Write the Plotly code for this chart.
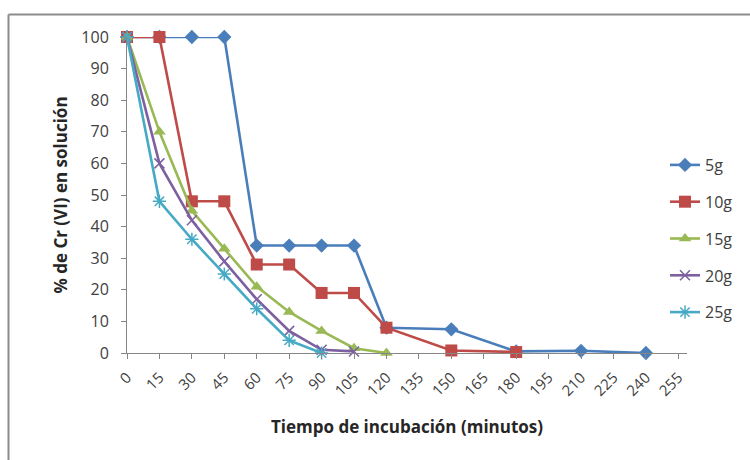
import plotly.graph_objects as go

series_names = ["5g", "10g", "15g", "20g", "25g"]

x_5g = [0, 15, 30, 45, 60, 75, 90, 105, 120, 150, 180, 210, 240]
y_5g = [100, 100, 100, 100, 34, 34, 34, 34, 8, 7.5, 0.5, 0.7, 0]

x_10g = [0, 15, 30, 45, 60, 75, 90, 105, 120, 150, 180]
y_10g = [100, 100, 48, 48, 28, 28, 19, 19, 8, 0.8, 0.3]

x_15g = [0, 15, 30, 45, 60, 75, 90, 105, 120]
y_15g = [100, 70, 45, 33, 21, 13, 7, 1.5, 0]

x_20g = [0, 15, 30, 45, 60, 75, 90, 105]
y_20g = [100, 60, 42, 29, 17, 7, 1, 0.5]

x_25g = [0, 15, 30, 45, 60, 75, 90]
y_25g = [100, 48, 36, 25, 14, 4, 0]

x_ticks = list(range(0, 256, 15))
y_ticks = list(range(0, 101, 10))

colors = ["#4A7EBB", "#BE4B48", "#98B954", "#7D60A0", "#46AAC5"]
symbols = ["diamond", "square", "triangle-up", "x-thin-open", "asterisk-open"]
sizes = [11, 12, 11, 10, 11]

xs = [x_5g, x_10g, x_15g, x_20g, x_25g]
ys = [y_5g, y_10g, y_15g, y_20g, y_25g]

fig = go.Figure()
for name, x, y, c, s, sz in zip(series_names, xs, ys, colors, symbols, sizes):
    marker = dict(symbol=s, size=sz, color=c)
    if s.endswith("open"):
        marker["line"] = dict(color=c, width=1.5)
    fig.add_trace(go.Scatter(
        x=x, y=y, name=name, mode="lines+markers", legendgroup=name,
        line=dict(color=c, width=2.6),
        marker=marker, cliponaxis=False,
    ))

font_family = "'Open Sans', sans-serif"

L, T, W, H = 127, 37, 560, 316  # plot area in pixels

fig.update_layout(
    width=750, height=460,
    margin=dict(l=L, r=750 - L - W, t=T, b=460 - T - H),
    paper_bgcolor="white", plot_bgcolor="white",
    font=dict(family=font_family, size=15, color="#404040"),
    showlegend=True,
    legend=dict(
        x=(665 - L) / W, y=(T + H - 148) / H, xanchor="left", yanchor="top",
        bgcolor="rgba(0,0,0,0)", font=dict(size=16, color="#404040"),
        tracegroupgap=13,
    ),
    xaxis=dict(
        range=[0, 259], tickmode="array", tickvals=x_ticks,
        ticktext=[str(v) for v in x_ticks], tickangle=-45,
        showgrid=False, zeroline=False, showline=True,
        linecolor="#868686", linewidth=1,
        ticks="outside", ticklen=5, tickcolor="#868686",
        tickfont=dict(size=15, color="#404040"), ticklabelstandoff=4,
        title=dict(text="<b>Tiempo de incubación (minutos)</b>",
                   font=dict(size=17, color="#262626"), standoff=22),
    ),
    yaxis=dict(
        range=[0, 100], tickmode="array", tickvals=y_ticks,
        showgrid=False, zeroline=False, showline=True,
        linecolor="#868686", linewidth=1,
        ticks="outside", ticklen=5, tickcolor="#868686",
        tickfont=dict(size=16, color="#404040"), ticklabelstandoff=9,
        title=dict(text="<b>% de Cr (VI) en solución</b>",
                   font=dict(size=17, color="#262626"), standoff=9),
    ),
    shapes=[
        dict(type="line", xref="paper", yref="paper",
             x0=(8.5 - L) / W, x1=(750 - L) / W,
             y0=(T + H - 14.5) / H, y1=(T + H - 14.5) / H,
             line=dict(color="#8C8C8C", width=2)),
        dict(type="line", xref="paper", yref="paper",
             x0=(8.5 - L) / W, x1=(8.5 - L) / W,
             y0=-(460 - T - H) / H, y1=(T + H - 14.5) / H,
             line=dict(color="#8C8C8C", width=2)),
    ],
)

fig.write_html("out.html", config={"displayModeBar": False},
               post_script="document.body.style.margin='0px';")
